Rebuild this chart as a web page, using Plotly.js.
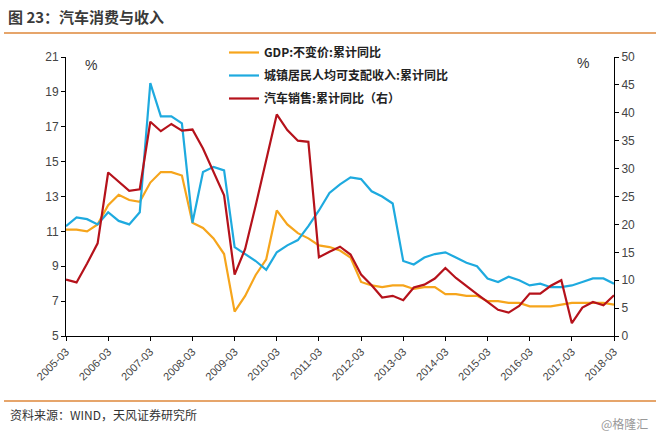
<!DOCTYPE html>
<html>
<head>
<meta charset="utf-8">
<script src="https://cdn.plot.ly/plotly-3.0.1.min.js"></script>
<style>html,body{margin:0;padding:0;background:#fff;}#chart{width:656px;height:436px;}</style>
</head>
<body>
<div id="chart"></div>
<script>
const quarters = [
  '2005-03','2005-06','2005-09','2005-12',
  '2006-03','2006-06','2006-09','2006-12',
  '2007-03','2007-06','2007-09','2007-12',
  '2008-03','2008-06','2008-09','2008-12',
  '2009-03','2009-06','2009-09','2009-12',
  '2010-03','2010-06','2010-09','2010-12',
  '2011-03','2011-06','2011-09','2011-12',
  '2012-03','2012-06','2012-09','2012-12',
  '2013-03','2013-06','2013-09','2013-12',
  '2014-03','2014-06','2014-09','2014-12',
  '2015-03','2015-06','2015-09','2015-12',
  '2016-03','2016-06','2016-09','2016-12',
  '2017-03','2017-06','2017-09','2017-12',
  '2018-03'
];
const tickLabels = ['2005-03','2006-03','2007-03','2008-03','2009-03','2010-03','2011-03',
  '2012-03','2013-03','2014-03','2015-03','2016-03','2017-03','2018-03'];

const gdp = [11.1,11.1,11.0,11.4,12.5,13.1,12.8,12.7,13.8,14.4,14.4,14.2,11.5,11.2,10.6,9.7,
  6.4,7.3,8.5,9.4,12.2,11.4,10.9,10.6,10.2,10.1,9.9,9.5,8.1,7.9,7.8,7.9,7.9,7.7,7.8,7.8,
  7.4,7.4,7.3,7.3,7.0,7.0,6.9,6.9,6.7,6.7,6.7,6.8,6.9,6.9,6.9,6.9,6.8];
const income = [11.3,11.8,11.7,11.4,12.1,11.6,11.4,12.1,19.5,17.6,17.6,17.2,11.5,14.4,14.7,14.5,
  10.1,9.7,9.3,8.8,9.8,10.2,10.5,11.3,12.2,13.2,13.7,14.1,14.0,13.3,13.0,12.6,9.3,9.1,9.5,9.7,
  9.8,9.5,9.2,9.0,8.3,8.1,8.4,8.2,7.9,8.0,7.8,7.8,7.9,8.1,8.3,8.3,8.0];
const carSales = [10.1,9.6,13.0,16.6,29.3,27.6,26.0,26.3,38.4,36.7,38.0,36.8,37.0,33.6,29.4,25.2,
  11.0,15.6,23.4,31.5,39.7,36.9,35.0,34.8,14.1,15.1,16.0,14.6,11.0,9.1,6.9,7.2,6.4,8.7,9.2,10.3,
  12.2,10.4,8.9,7.5,6.1,4.7,4.2,5.4,7.6,7.6,9.0,10.0,2.3,5.1,6.1,5.5,7.3];

const names = ['GDP:不变价:累计同比','城镇居民人均可支配收入:累计同比','汽车销售:累计同比（右）'];
const colors = ['#F6A51C','#1EAADF','#B5121B'];

const cjk = '"Noto Sans CJK SC", "Noto Sans", sans-serif';
const lat = '"Liberation Sans", Arial, sans-serif';

const traces = [
  {x: quarters, y: gdp, name: names[0], legendgroup:'a', type:'scatter', mode:'lines',
   line:{color:colors[0], width:2.2}},
  {x: quarters, y: income, name: names[1], legendgroup:'b', type:'scatter', mode:'lines',
   line:{color:colors[1], width:2.2}},
  {x: quarters, y: carSales, name: names[2], legendgroup:'c', type:'scatter', mode:'lines', yaxis:'y2',
   line:{color:colors[2], width:2.2}}
];

const PL = 66, PR = 614, PT = 57, PB = 336;
const px = v => (v - PL) / (PR - PL);
const py = v => (PB - v) / (PB - PT);

const layout = {
  width: 656, height: 436,
  margin: {l: PL, r: 656 - PR, t: PT, b: 436 - PB},
  paper_bgcolor: '#ffffff', plot_bgcolor: '#ffffff',
  showlegend: true,
  legend: {x: px(224), y: py(38), xanchor:'left', yanchor:'top', bgcolor:'rgba(0,0,0,0)',
    font:{family: cjk, size: 12, color:'#222', weight: 'bold'}, tracegroupgap: 4, traceorder:'grouped'},
  title: {text: '图 23：汽车消费与收入', x: 8/656, xref:'container', xanchor:'left',
    y: 1 - 18/436, yref:'container', yanchor:'middle',
    font:{family: cjk, size: 15, color:'#3a3a3a', weight:'bold'}},
  xaxis: {type:'category', range:[0, quarters.length - 1], tickmode:'array',
    tickvals: tickLabels, ticktext: tickLabels, tickangle: -45,
    showline: true, linecolor:'#000', linewidth: 1, ticks:'outside', ticklen: 4, tickcolor:'#000',
    showgrid:false, zeroline:false, tickfont:{family: lat, size: 11, color:'#444'}},
  yaxis: {range:[5,21], dtick:2, tick0:5, showline:true, linecolor:'#000', linewidth:1,
    ticks:'outside', ticklen:4, tickcolor:'#000', showgrid:false, zeroline:false,
    tickfont:{family: lat, size: 12, color:'#444'}},
  yaxis2: {range:[0,50], dtick:5, tick0:0, overlaying:'y', side:'right', showline:true,
    linecolor:'#000', linewidth:1, ticks:'outside', ticklen:4, tickcolor:'#000',
    showgrid:false, zeroline:false, tickfont:{family: lat, size: 12, color:'#444'}},
  shapes: [
    {type:'line', xref:'paper', yref:'paper', x0: px(4), x1: px(656), y0: py(33), y1: py(33),
     line:{color:'#E6A56B', width:2}},
    {type:'line', xref:'paper', yref:'paper', x0: px(4), x1: px(656), y0: py(401), y1: py(401),
     line:{color:'#E6A56B', width:2}}
  ],
  annotations: [
    {text:'%', xref:'paper', yref:'paper', x: px(91), y: py(65), xanchor:'center', yanchor:'middle',
     showarrow:false, font:{family: lat, size: 14, color:'#333'}},
    {text:'%', xref:'paper', yref:'paper', x: px(583), y: py(63), xanchor:'center', yanchor:'middle',
     showarrow:false, font:{family: lat, size: 14, color:'#333'}},
    {text:'资料来源：WIND，天风证券研究所', xref:'paper', yref:'paper', x: px(8), y: py(415),
     xanchor:'left', yanchor:'middle', showarrow:false, font:{family: cjk, size: 12, color:'#333'}},
    {text:'@格隆汇', xref:'paper', yref:'paper', x: px(650), y: py(424),
     xanchor:'right', yanchor:'middle', showarrow:false, font:{family: cjk, size: 12, color:'#999'}}
  ]
};

Plotly.newPlot('chart', traces, layout, {displayModeBar:false, staticPlot:true});
</script>
</body>
</html>
